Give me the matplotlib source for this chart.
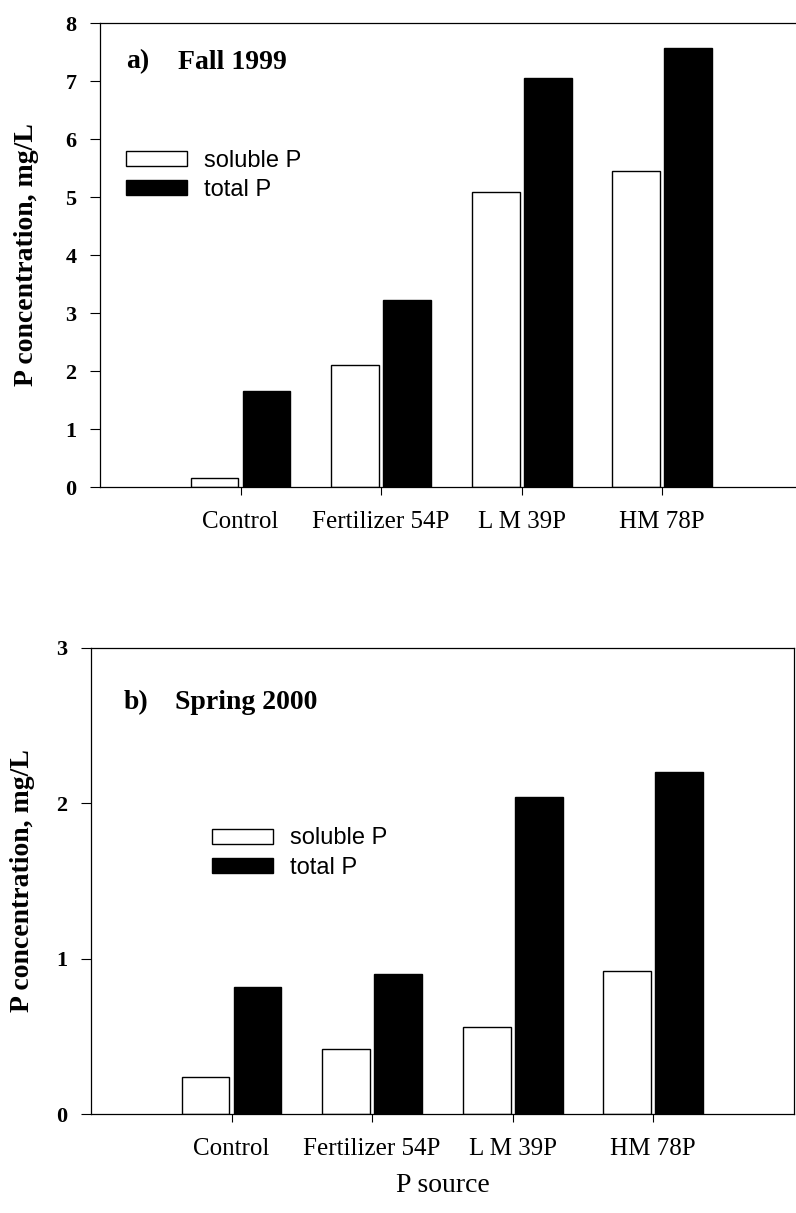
import matplotlib.pyplot as plt
import numpy as np

plt.rcParams['font.family'] = ['Liberation Serif', 'DejaVu Serif']

sources = ['Control', 'Fertilizer 54P', 'L M 39P', 'HM 78P']

# a) Fall 1999
fall_soluble = [0.16, 2.1, 5.08, 5.45]
fall_total = [1.66, 3.22, 7.06, 7.57]

# b) Spring 2000
spring_soluble = [0.24, 0.42, 0.56, 0.92]
spring_total = [0.82, 0.90, 2.04, 2.20]

x = np.arange(len(sources))
w = 0.34
off = 0.185

fig = plt.figure(figsize=(7.96, 12.13), dpi=100)
ax1 = fig.add_axes([0.1256, 0.5985, 0.883, 0.3825])
ax2 = fig.add_axes([0.1143, 0.0816, 0.883, 0.3842])


def draw(ax, sol, tot, ymax, tag, name, tag_x, name_x, txt_y, leg_xy, ylab_x):
    b1 = ax.bar(x - off, sol, w, color='white', edgecolor='black', linewidth=1.0,
                label='soluble P')
    b2 = ax.bar(x + off, tot, w, color='black', edgecolor='black', linewidth=1.0,
                label='total P')
    ax.set_xlim(-1, 4)
    ax.set_ylim(0, ymax)
    ax.set_yticks(range(ymax + 1))
    ax.set_xticks(x)
    ax.set_xticklabels(sources, fontsize=18)
    for lab in ax.get_yticklabels():
        lab.set_fontweight('bold')
        lab.set_fontsize(16)
    ax.tick_params(axis='y', direction='out', length=7, width=0.8, pad=10)
    ax.tick_params(axis='x', direction='out', length=6, width=0.8, pad=11)
    for s in ax.spines.values():
        s.set_linewidth(0.9)
    ax.text(tag_x, txt_y, tag, transform=ax.transAxes, fontsize=20,
            fontweight='bold', va='center')
    ax.text(name_x, txt_y, name, transform=ax.transAxes, fontsize=20,
            fontweight='bold', va='center')
    ax.set_ylabel('P concentration, mg/L', fontsize=20, fontweight='bold', va='center')
    ax.yaxis.set_label_coords(ylab_x, 0.5)
    ax.legend(handles=[b1, b2], loc='center left', bbox_to_anchor=leg_xy,
              frameon=False, prop={'family': 'Liberation Sans', 'size': 17},
              handlelength=2.6, handleheight=0.6, handletextpad=0.7,
              labelspacing=0.3, borderpad=0, borderaxespad=0)


draw(ax1, fall_soluble, fall_total, 8, 'a)', 'Fall 1999',
     0.037, 0.111, 0.916, (0.037, 0.671), -0.105)
draw(ax2, spring_soluble, spring_total, 3, 'b)', 'Spring 2000',
     0.046, 0.119, 0.882, (0.172, 0.56), -0.098)

ax2.set_xlabel('P source', fontsize=20)
ax2.xaxis.set_label_coords(0.5, -0.154)
ax2.xaxis.label.set_va('center')

fig.savefig('out.png', dpi=100)
